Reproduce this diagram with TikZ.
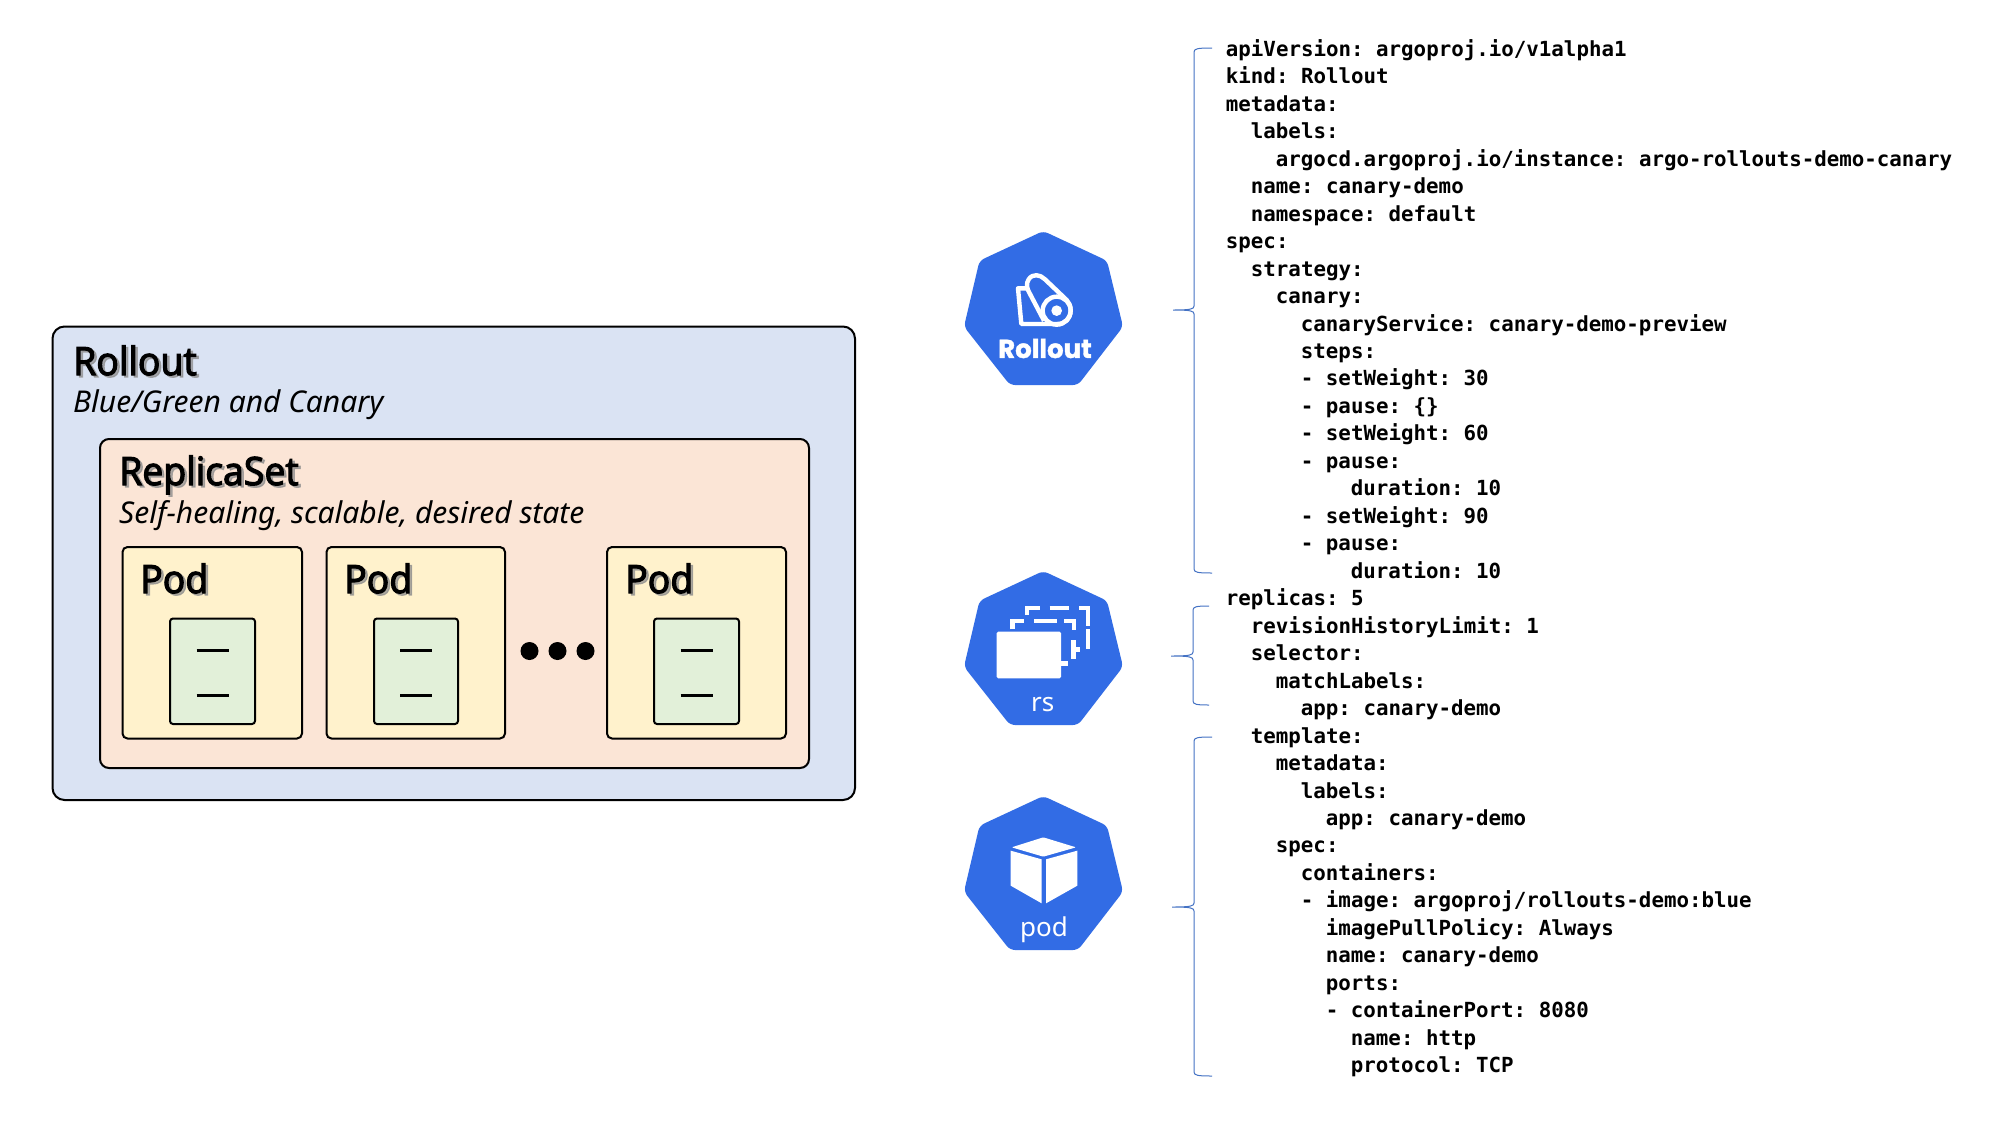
\documentclass[tikz,border=0pt]{standalone}
\usepackage{fontspec}
\setmainfont{Noto Sans}
\newfontfamily\codef{DejaVu Sans Mono}
\newfontfamily\titlef[FakeStretch=0.96,FakeBold=3]{Open Sans}
\newfontfamily\subf{Noto Sans}
\newfontfamily\iconf[FakeBold=1.5]{Poppins}
\definecolor{k8s}{HTML}{326CE5}
\definecolor{bluefill}{HTML}{DAE3F3}
\definecolor{orangefill}{HTML}{FBE5D6}
\definecolor{yellowfill}{HTML}{FFF2CC}
\definecolor{greenfill}{HTML}{E2F0D9}
\definecolor{bracecol}{HTML}{4472C4}
\tikzset{
  boxa/.style={draw=black,line width=2pt,fill=bluefill,rounded corners=12pt},
  boxb/.style={draw=black,line width=2pt,fill=orangefill,rounded corners=9pt},
  boxc/.style={draw=black,line width=2pt,fill=yellowfill,rounded corners=5pt},
  boxd/.style={draw=black,line width=2pt,fill=greenfill,rounded corners=3pt},
  dashline/.style={draw=black,line width=3pt},
  titletext/.style={anchor=base west,inner sep=0pt,font=\titlef\fontsize{39}{39}\selectfont},
  titleshadow/.style={titletext,text=black!45,opacity=.7},
  subtext/.style={anchor=base west,inner sep=0pt,font=\subf\itshape\fontsize{30}{30}\selectfont},
  codetext/.style={anchor=base west,inner sep=0pt,font=\codef\bfseries\frenchspacing\fontsize{20.8}{27}\selectfont},
  hept/.style={fill=k8s,rounded corners=5pt},
  brc/.style={draw=bracecol,line width=1pt},
}
\newcommand{\heptagon}[1]{%
  \fill[hept,shift={(0,#1)}] (1043.3,231)--(1107,260.7)--(1123,326.7)--(1078,385)--(1010,385)--(964,326.7)--(979.5,260.7)--cycle;}
\newcommand{\cbrace}[6]{% xtip xspine xend ytop ymid ybot
  \draw[brc] (#3,#4) .. controls (#2+4,#4) and (#2,#4+.5) .. (#2,#4+4)
     -- (#2,#5-4) .. controls (#2,#5-1) and (#2-3,#5) .. (#1,#5)
     .. controls (#2-3,#5) and (#2,#5+1) .. (#2,#5+4)
     -- (#2,#6-4) .. controls (#2,#6-.5) and (#2+4,#6) .. (#3,#6);}
\newcounter{codeline}
\newcommand{\yl}[2]{%
  \node[codetext] (code\thecodeline) at ({1225.7+12.5*#1},{56.3+27.47*\thecodeline}) {#2};%
  \stepcounter{codeline}}
\begin{document}
\begin{tikzpicture}[x=1pt,y=-1pt]
\useasboundingbox (0,0) rectangle (2000,1125);
\fill[white] (0,0) rectangle (2000,1125);
% boxes
\draw[boxa] (52.5,326.5) rectangle (855,800);
\draw[boxb] (100,439) rectangle (809,768);
\foreach \a/\b/\c/\d in {122.5/302/170/255,326.5/505/374/458,607/786/654/739}{
  \draw[boxc] (\a,547) rectangle (\b,738.5);
  \draw[boxd] (\c,618.5) rectangle (\d,724);
  \draw[dashline] ({(\c+\d)/2-16},650) -- ({(\c+\d)/2+16},650);
  \draw[dashline] ({(\c+\d)/2-16},695) -- ({(\c+\d)/2+16},695);
}
\foreach \x in {529.5,557.5,585.5}{\fill[black] (\x,651) circle (9);}
% titles
\node[titleshadow] at (75.5,377) {Rollout};
\node[titletext] (t1) at (73,375) {Rollout};
\node[subtext] (s1) at (73,412) {Blue/Green and Canary};
\node[titleshadow] at (121.5,487) {ReplicaSet};
\node[titletext] (t2) at (119,485) {ReplicaSet};
\node[subtext] (s2) at (119,523) {Self-healing, scalable, desired state};
\node[titleshadow] at (142.5,595) {Pod};
\node[titletext] (p1) at (140,593) {Pod};
\node[titleshadow] at (346.5,595) {Pod};
\node[titletext] (p2) at (344,593) {Pod};
\node[titleshadow] at (627.5,595) {Pod};
\node[titletext] (p3) at (625,593) {Pod};
% heptagons
\heptagon{0}
\heptagon{340}
\heptagon{565}
% rollout icon
\begin{scope}[shift={(950,220)},x=.3333pt,y=-.3333pt]
  \draw[white,line width=4.4pt,line join=round]
    (232,205) -- (204,205) -- (214,312) -- (322,312)
    .. controls (345,312) and (362,295) .. (362,270)
    .. controls (362,256) and (356,247) .. (350,240)
    -- (285,178) .. controls (270,163) and (248,160) .. (236,178)
    .. controls (228,190) and (230,205) .. (238,218) -- (282,302);
  \draw[white,line width=4.4pt] (320,272) circle (42);
  \fill[white] (320,272) circle (16);
  \node[anchor=base,inner sep=0pt,text=white,font=\iconf\bfseries\fontsize{26}{26}\selectfont] (ir) at (285,414) {Rollout};
\end{scope}
% rs icon
\begin{scope}[shift={(950,560)},x=.3333pt,y=-.3333pt]
  \fill[white,rounded corners=1.5pt] (140,215) rectangle (333,355);
  \draw[white,line width=4.4pt] (188,208) -- (188,183) -- (222,183);
  \draw[white,line width=4.4pt] (252,183) -- (320,183);
  \draw[white,line width=4.4pt] (342,183) -- (372,183) -- (372,210);
  \draw[white,line width=4.4pt] (370,240) -- (370,298);
  \draw[white,line width=4.4pt] (370,268) -- (390,268);
  \draw[white,line width=4.4pt] (333,310) -- (353,310);
  \draw[white,line width=4.4pt] (231,165) -- (231,144) -- (270,144);
  \draw[white,line width=4.4pt] (299,144) -- (358,144);
  \draw[white,line width=4.4pt] (388,144) -- (414,144) -- (414,198);
  \draw[white,line width=4.4pt] (414,208) -- (414,266);
  \node[anchor=base,inner sep=0pt,text=white,font=\fontsize{26}{26}\selectfont] (ilrs) at (278,455) {rs};
\end{scope}
% pod icon
\begin{scope}[shift={(950,790)},x=.3333pt,y=-.3333pt]
  \fill[white,rounded corners=1pt] (185,172) -- (280,142) -- (378,172) -- (280,200) -- cycle;
  \fill[white] (182,182) -- (275,208) -- (275,340) -- (182,287) -- cycle;
  \fill[white] (288,208) -- (382,182) -- (382,287) -- (288,340) -- cycle;
  \node[anchor=base,inner sep=0pt,text=white,font=\fontsize{26}{26}\selectfont] (ilpod) at (282,440) {pod};
\end{scope}
% braces
\cbrace{1173}{1194}{1212}{48}{310}{573}
\cbrace{1171}{1193}{1209}{606}{656}{705}
\cbrace{1172}{1194}{1212}{737}{907}{1076}
% code
\yl{0}{apiVersion: argoproj.io/v1alpha1}
\yl{0}{kind: Rollout}
\yl{0}{metadata:}
\yl{2}{labels:}
\yl{4}{argocd.argoproj.io/instance: argo-rollouts-demo-canary}
\yl{2}{name: canary-demo}
\yl{2}{namespace: default}
\yl{0}{spec:}
\yl{2}{strategy:}
\yl{4}{canary:}
\yl{6}{canaryService: canary-demo-preview}
\yl{6}{steps:}
\yl{6}{- setWeight: 30}
\yl{6}{- pause: \{\}}
\yl{6}{- setWeight: 60}
\yl{6}{- pause:}
\yl{10}{duration: 10}
\yl{6}{- setWeight: 90}
\yl{6}{- pause:}
\yl{10}{duration: 10}
\yl{0}{replicas: 5}
\yl{2}{revisionHistoryLimit: 1}
\yl{2}{selector:}
\yl{4}{matchLabels:}
\yl{6}{app: canary-demo}
\yl{2}{template:}
\yl{4}{metadata:}
\yl{6}{labels:}
\yl{8}{app: canary-demo}
\yl{4}{spec:}
\yl{6}{containers:}
\yl{6}{- image: argoproj/rollouts-demo:blue}
\yl{8}{imagePullPolicy: Always}
\yl{8}{name: canary-demo}
\yl{8}{ports:}
\yl{8}{- containerPort: 8080}
\yl{10}{name: http}
\yl{10}{protocol: TCP}
\end{tikzpicture}
\end{document}
